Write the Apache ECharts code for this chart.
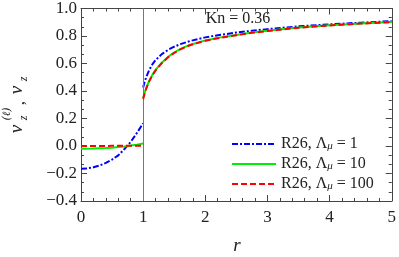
<!DOCTYPE html>
<html><head><meta charset="utf-8">
<script src="https://cdn.jsdelivr.net/npm/echarts@6/dist/echarts.min.js"></script>
<style>html,body{margin:0;padding:0;background:#fff}#c{width:399px;height:257px}</style>
</head><body><div id="c"></div>
<script>
// ---- data ----
var rInner = [0, 0.1, 0.2, 0.3, 0.4, 0.5, 0.6, 0.7, 0.8, 0.9, 1.0];
var blueInner  = [-0.165, -0.163, -0.155, -0.142, -0.123, -0.099, -0.068, -0.022, 0.030, 0.095, 0.165];
var greenInner = [-0.020, -0.0198, -0.019, -0.017, -0.015, -0.012, -0.008, -0.003, 0.003, 0.010, 0.018];
var redInner   = [0.000, 0.000, 0.000, 0.000, 0.0005, 0.001, 0.001, 0.0015, 0.002, 0.002, 0.003];

var rOuter = [1, 1.02, 1.05, 1.1, 1.15, 1.2, 1.3, 1.4, 1.5, 1.6, 1.75, 2, 2.25, 2.5, 2.75, 3, 3.5, 4, 4.5, 5];
var blueOuter  = [0.425, 0.460, 0.502, 0.555, 0.595, 0.625, 0.668, 0.699, 0.722, 0.741, 0.763, 0.790, 0.809, 0.825, 0.838, 0.850, 0.870, 0.885, 0.897, 0.908];
var greenOuter = [0.350, 0.382, 0.424, 0.477, 0.519, 0.553, 0.606, 0.648, 0.680, 0.706, 0.735, 0.768, 0.790, 0.808, 0.825, 0.838, 0.862, 0.878, 0.891, 0.902];
var redOuter   = [0.341, 0.375, 0.418, 0.472, 0.515, 0.550, 0.603, 0.645, 0.677, 0.703, 0.733, 0.766, 0.788, 0.806, 0.823, 0.836, 0.860, 0.877, 0.890, 0.901];

var xTicks = [0, 1, 2, 3, 4, 5];
var yTicks = [-0.4, -0.2, 0.0, 0.2, 0.4, 0.6, 0.8, 1.0];
var names = ['L1', 'L10', 'L100'];
var legendLabels = {L1: '1', L10: '10', L100: '100'};
var knLabel = 'Kn = 0.36';

function pairs(xs, ys) { return xs.map(function (x, i) { return [x, ys[i]]; }); }

var serif = '"Liberation Serif", "Times New Roman", "DejaVu Serif", serif';
var styles = {
  L1:   {color: '#0000ff', width: 2, type: [6, 2, 2, 2]},
  L10:  {color: '#00ee00', width: 2, type: 'solid'},
  L100: {color: '#ff0000', width: 2, type: [6, 3]}
};
var sets = {
  L1: [blueInner, blueOuter],
  L10: [greenInner, greenOuter],
  L100: [redInner, redOuter]
};

var series = [];
names.forEach(function (n, k) {
  [0, 1].forEach(function (part) {
    var s = {
      name: n, type: 'line', symbol: 'none', showSymbol: false,
      xAxisIndex: 0, yAxisIndex: 0, z: 3 + k,
      data: pairs(part === 0 ? rInner : rOuter, sets[n][part]),
      lineStyle: styles[n], itemStyle: {color: styles[n].color},
      animation: false
    };
    if (k === 0 && part === 0) {
      s.markLine = {
        silent: true, symbol: ['none', 'none'], label: {show: false},
        lineStyle: {color: '#777', width: 1, type: 'solid'},
        data: [{xAxis: xTicks[1]}], animation: false
      };
    }
    series.push(s);
  });
});

function axisCommon() {
  return {
    axisLine: {show: true, onZero: false, lineStyle: {color: '#444', width: 1}},
    axisTick: {show: true, inside: true, length: 6, lineStyle: {color: '#444'}},
    splitLine: {show: false}
  };
}

var chart = echarts.init(document.getElementById('c'), null, {renderer: 'canvas'});
chart.setOption({
  animation: false,
  grid: {left: 81, right: 5, top: 7, bottom: 56, containLabel: false},
  xAxis: [
    Object.assign({type: 'value', position: 'bottom', min: xTicks[0], max: xTicks[xTicks.length - 1], interval: 1,
      axisLabel: {show: true, margin: 8, fontFamily: serif, fontSize: 17, color: '#222'},
      minorTick: {show: true, splitNumber: 5, length: 3, lineStyle: {color: '#444'}}
    }, axisCommon()),
    Object.assign({type: 'value', position: 'top', min: xTicks[0], max: xTicks[xTicks.length - 1], interval: 1,
      axisLabel: {show: false},
      minorTick: {show: true, splitNumber: 5, length: 3, lineStyle: {color: '#444'}}
    }, axisCommon())
  ],
  yAxis: [
    Object.assign({type: 'value', position: 'left', min: yTicks[0], max: yTicks[yTicks.length - 1], interval: 0.2,
      axisLabel: {show: true, margin: 4, fontFamily: serif, fontSize: 17, color: '#222',
        formatter: function (v) { return (v < 0 ? '\u2212' : '') + Math.abs(v).toFixed(1); }},
      minorTick: {show: true, splitNumber: 3, length: 3, lineStyle: {color: '#444'}}
    }, axisCommon()),
    Object.assign({type: 'value', position: 'right', min: yTicks[0], max: yTicks[yTicks.length - 1], interval: 0.2,
      axisLabel: {show: false},
      minorTick: {show: true, splitNumber: 3, length: 3, lineStyle: {color: '#444'}}
    }, axisCommon())
  ],
  legend: {
    data: names, orient: 'vertical', left: 231, top: 135, padding: 0,
    itemWidth: 44, itemHeight: 12, itemGap: 3,
    itemStyle: {opacity: 0, borderWidth: 0},
    formatter: function (n) { return '{t|R26, \u039B}{s|\u03BC}{t| = ' + legendLabels[n] + '}'; },
    textStyle: {
      fontFamily: serif, fontSize: 16, color: '#222',
      rich: {
        t: {fontFamily: serif, fontSize: 16, lineHeight: 16, color: '#222'},
        s: {fontFamily: serif, fontSize: 11, fontStyle: 'italic', lineHeight: 16, verticalAlign: 'bottom', padding: [6, 0, 0, 0], color: '#222'}
      }
    }
  },
  graphic: [
    {type: 'text', x: 238, y: 19, style: {text: knLabel, font: '16px ' + serif, fill: '#222', align: 'center', verticalAlign: 'middle'}},
    {type: 'text', x: 237, y: 246, style: {text: 'r', font: 'italic 19px ' + serif, fill: '#222', align: 'center', verticalAlign: 'middle'}},
    {type: 'text', x: 17, y: 129, rotation: Math.PI / 2, style: {text: 'v', font: 'italic 19px ' + serif, fill: '#222', align: 'center', verticalAlign: 'middle'}},
    {type: 'text', x: 7, y: 114, rotation: Math.PI / 2, style: {text: '(\u2113)', font: 'italic 11px "DejaVu Serif", serif', fill: '#222', align: 'center', verticalAlign: 'middle'}},
    {type: 'text', x: 24, y: 118, rotation: Math.PI / 2, style: {text: 'z', font: 'italic 12px ' + serif, fill: '#222', align: 'center', verticalAlign: 'middle'}},
    {type: 'text', x: 20, y: 103, rotation: Math.PI / 2, style: {text: ',', font: '17px ' + serif, fill: '#222', align: 'center', verticalAlign: 'middle'}},
    {type: 'text', x: 17, y: 90, rotation: Math.PI / 2, style: {text: 'v', font: 'italic 19px ' + serif, fill: '#222', align: 'center', verticalAlign: 'middle'}},
    {type: 'text', x: 24, y: 79, rotation: Math.PI / 2, style: {text: 'z', font: 'italic 12px ' + serif, fill: '#222', align: 'center', verticalAlign: 'middle'}}
  ],
  series: series
});
</script></body></html>
